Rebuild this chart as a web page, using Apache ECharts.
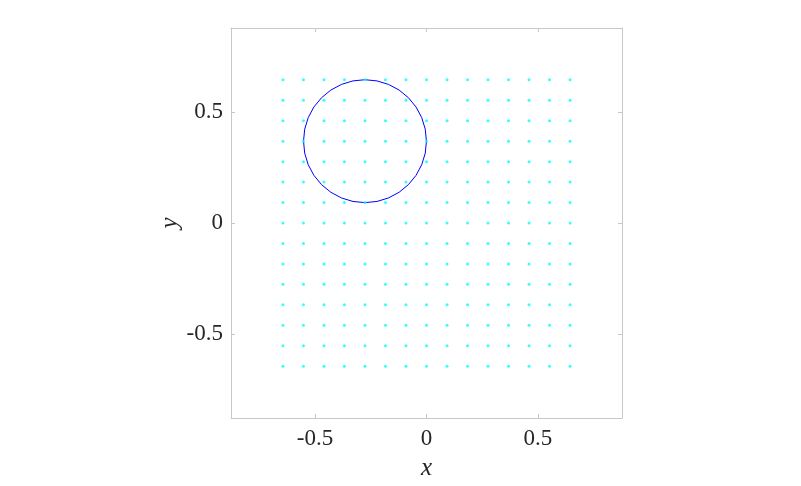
<!DOCTYPE html>
<html>
<head>
<meta charset="utf-8">
<script src="https://cdn.jsdelivr.net/npm/echarts@6/dist/echarts.min.js"></script>
<style>html,body{margin:0;padding:0;background:#fff;}#c{width:801px;height:486px;}</style>
</head>
<body>
<div id="c"></div>
<script>
// grid node coordinates
var gridX = [-0.644, -0.552, -0.46, -0.368, -0.276, -0.184, -0.092, 0, 0.092, 0.184, 0.276, 0.368, 0.46, 0.552, 0.644];
var gridY = [-0.644, -0.552, -0.46, -0.368, -0.276, -0.184, -0.092, 0, 0.092, 0.184, 0.276, 0.368, 0.46, 0.552, 0.644];
// circle: center and radius
var circleCenter = [-0.276, 0.368];
var circleRadius = [0.276];
// axis
var axisRange = [-0.877, 0.877];
var tickValues = [-0.5, 0, 0.5];

var points = [];
for (var i = 0; i < gridX.length; i++) {
  for (var j = 0; j < gridY.length; j++) points.push([gridX[i], gridY[j]]);
}

var font = '"Liberation Serif", "DejaVu Serif", serif';
var axisColor = '#c8c8c8';
var textColor = '#262626';

function mkAxis(pos, isX, showLabels, name, gap) {
  var a = {
    type: 'value', position: pos, min: axisRange[0], max: axisRange[1],
    splitLine: { show: false },
    axisLine: { show: true, onZero: false, lineStyle: { color: axisColor, width: 1 } },
    axisTick: { show: true, inside: true, length: 4, customValues: tickValues, lineStyle: { color: axisColor } },
    axisLabel: { show: showLabels, customValues: tickValues, color: textColor, fontFamily: font, fontSize: 23,
      margin: isX ? 9 : 8, formatter: function (v) { return String(v); } }
  };
  if (name) {
    a.name = name; a.nameLocation = 'middle'; a.nameGap = gap;
    a.nameTextStyle = { fontFamily: font, fontStyle: 'italic', fontSize: 25, color: textColor };
  }
  return a;
}

var chart = echarts.init(document.getElementById('c'), null, { renderer: 'canvas' });
chart.setOption({
  animation: false,
  backgroundColor: '#ffffff',
  grid: { left: 231, right: 179, top: 28, bottom: 66, containLabel: false },
  xAxis: [mkAxis('bottom', true, true, 'x', 38), mkAxis('top', true, false)],
  yAxis: [mkAxis('left', false, true, 'y', 46), mkAxis('right', false, false)],
  series: [
    {
      type: 'scatter', xAxisIndex: 0, yAxisIndex: 0,
      data: points, symbol: 'circle', symbolSize: 3,
      itemStyle: { color: '#00ffff' }, silent: true
    },
    {
      type: 'custom', xAxisIndex: 0, yAxisIndex: 0,
      data: [[circleCenter[0], circleCenter[1], circleRadius[0]]],
      renderItem: function (params, api) {
        var c = api.coord([api.value(0), api.value(1)]);
        var s = api.size([api.value(2), api.value(2)]);
        return {
          type: 'circle',
          shape: { cx: c[0], cy: c[1], r: (s[0] + s[1]) / 2 },
          style: { fill: 'none', stroke: '#0000ff', lineWidth: 1 }
        };
      },
      silent: true
    }
  ]
});
</script>
</body>
</html>
